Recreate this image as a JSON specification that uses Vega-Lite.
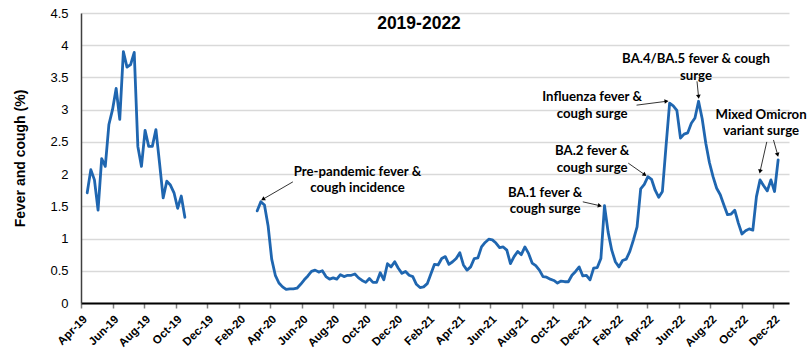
{
  "$schema": "https://vega.github.io/schema/vega-lite/v6.json",
  "width": 708,
  "height": 290,
  "autosize": {"type": "none"},
  "padding": {"left": 81, "top": 13, "right": 21, "bottom": 58},
  "background": "white",
  "config": {"view": {"stroke": null}, "font": "Liberation Sans"},
  "title": {"text": "2019-2022", "font": "Liberation Sans", "fontSize": 17.5, "fontWeight": "bold", "color": "#000000", "anchor": "middle", "dx": -16, "dy": 24, "baseline": "alphabetic", "offset": -15},
  "encoding": {
    "x": {
      "field": "date", "type": "temporal", "title": null,
      "scale": {"type": "utc", "domain": [{"year": 2019, "month": 4, "date": 1, "utc": true}, {"year": 2022, "month": 12, "date": 31, "utc": true}]},
      "axis": {
        "values": [
          {"year": 2019, "month": 4, "date": 1, "utc": true}, {"year": 2019, "month": 6, "date": 1, "utc": true}, {"year": 2019, "month": 8, "date": 1, "utc": true}, {"year": 2019, "month": 10, "date": 1, "utc": true}, {"year": 2019, "month": 12, "date": 1, "utc": true},
          {"year": 2020, "month": 2, "date": 1, "utc": true}, {"year": 2020, "month": 4, "date": 1, "utc": true}, {"year": 2020, "month": 6, "date": 1, "utc": true}, {"year": 2020, "month": 8, "date": 1, "utc": true}, {"year": 2020, "month": 10, "date": 1, "utc": true}, {"year": 2020, "month": 12, "date": 1, "utc": true},
          {"year": 2021, "month": 2, "date": 1, "utc": true}, {"year": 2021, "month": 4, "date": 1, "utc": true}, {"year": 2021, "month": 6, "date": 1, "utc": true}, {"year": 2021, "month": 8, "date": 1, "utc": true}, {"year": 2021, "month": 10, "date": 1, "utc": true}, {"year": 2021, "month": 12, "date": 1, "utc": true},
          {"year": 2022, "month": 2, "date": 1, "utc": true}, {"year": 2022, "month": 4, "date": 1, "utc": true}, {"year": 2022, "month": 6, "date": 1, "utc": true}, {"year": 2022, "month": 8, "date": 1, "utc": true}, {"year": 2022, "month": 10, "date": 1, "utc": true}, {"year": 2022, "month": 12, "date": 1, "utc": true}
        ],
        "format": "%b-%y", "labelAngle": -45, "labelFont": "Liberation Sans", "labelFontWeight": "bold", "labelFontSize": 11.5, "labelColor": "#000000",
        "tickColor": "#7f7f7f", "tickSize": 5, "tickWidth": 1.5, "domainColor": "#000000", "domainWidth": 1.8, "grid": false, "labelPadding": 5, "labelOverlap": false, "labelFlush": false
      }
    },
    "y": {
      "field": "value", "type": "quantitative", "title": "Fever and cough (%)",
      "scale": {"domain": [0, 4.5], "nice": false, "zero": true},
      "axis": {
        "values": [0, 0.5, 1, 1.5, 2, 2.5, 3, 3.5, 4, 4.5], "format": ".1~f",
        "labelFont": "Liberation Sans", "labelFontSize": 13, "labelColor": "#000000", "labelPadding": 13, "ticks": false,
        "domainColor": "#404040", "domainWidth": 1.5, "gridColor": "#d9d9d9", "gridWidth": 1.5,
        "titleFont": "Liberation Sans", "titleFontSize": 14, "titleFontWeight": "bold", "titleColor": "#000000", "titlePadding": 22
      }
    }
  },
  "layer": [
    {
      "data": {"values": [
        {"date": "2019-04-13", "value": 1.71, "seg": 1}, {"date": "2019-04-20", "value": 2.07, "seg": 1}, {"date": "2019-04-27", "value": 1.91, "seg": 1}, {"date": "2019-05-04", "value": 1.44, "seg": 1},
        {"date": "2019-05-11", "value": 2.24, "seg": 1}, {"date": "2019-05-18", "value": 2.12, "seg": 1}, {"date": "2019-05-25", "value": 2.77, "seg": 1}, {"date": "2019-06-01", "value": 3.0, "seg": 1},
        {"date": "2019-06-08", "value": 3.33, "seg": 1}, {"date": "2019-06-15", "value": 2.85, "seg": 1}, {"date": "2019-06-22", "value": 3.9, "seg": 1}, {"date": "2019-06-29", "value": 3.66, "seg": 1},
        {"date": "2019-07-06", "value": 3.7, "seg": 1}, {"date": "2019-07-13", "value": 3.89, "seg": 1}, {"date": "2019-07-20", "value": 2.43, "seg": 1}, {"date": "2019-07-27", "value": 2.12, "seg": 1},
        {"date": "2019-08-03", "value": 2.68, "seg": 1}, {"date": "2019-08-10", "value": 2.43, "seg": 1}, {"date": "2019-08-17", "value": 2.43, "seg": 1}, {"date": "2019-08-24", "value": 2.69, "seg": 1},
        {"date": "2019-08-31", "value": 2.17, "seg": 1}, {"date": "2019-09-07", "value": 1.63, "seg": 1}, {"date": "2019-09-14", "value": 1.89, "seg": 1}, {"date": "2019-09-21", "value": 1.83, "seg": 1},
        {"date": "2019-09-28", "value": 1.71, "seg": 1}, {"date": "2019-10-05", "value": 1.47, "seg": 1}, {"date": "2019-10-12", "value": 1.66, "seg": 1}, {"date": "2019-10-19", "value": 1.33, "seg": 1},
        {"date": "2020-03-07", "value": 1.43, "seg": 2}, {"date": "2020-03-14", "value": 1.57, "seg": 2}, {"date": "2020-03-21", "value": 1.52, "seg": 2}, {"date": "2020-03-28", "value": 1.2, "seg": 2},
        {"date": "2020-04-04", "value": 0.68, "seg": 2}, {"date": "2020-04-11", "value": 0.43, "seg": 2}, {"date": "2020-04-18", "value": 0.31, "seg": 2}, {"date": "2020-04-25", "value": 0.25, "seg": 2},
        {"date": "2020-05-02", "value": 0.21, "seg": 2}, {"date": "2020-05-09", "value": 0.22, "seg": 2}, {"date": "2020-05-16", "value": 0.22, "seg": 2}, {"date": "2020-05-23", "value": 0.23, "seg": 2},
        {"date": "2020-05-30", "value": 0.29, "seg": 2}, {"date": "2020-06-06", "value": 0.36, "seg": 2}, {"date": "2020-06-13", "value": 0.42, "seg": 2}, {"date": "2020-06-20", "value": 0.49, "seg": 2},
        {"date": "2020-06-27", "value": 0.51, "seg": 2}, {"date": "2020-07-04", "value": 0.48, "seg": 2}, {"date": "2020-07-11", "value": 0.5, "seg": 2}, {"date": "2020-07-18", "value": 0.41, "seg": 2},
        {"date": "2020-07-25", "value": 0.37, "seg": 2}, {"date": "2020-08-01", "value": 0.39, "seg": 2}, {"date": "2020-08-08", "value": 0.37, "seg": 2}, {"date": "2020-08-15", "value": 0.44, "seg": 2},
        {"date": "2020-08-22", "value": 0.41, "seg": 2}, {"date": "2020-08-29", "value": 0.43, "seg": 2}, {"date": "2020-09-05", "value": 0.43, "seg": 2}, {"date": "2020-09-12", "value": 0.45, "seg": 2},
        {"date": "2020-09-19", "value": 0.39, "seg": 2}, {"date": "2020-09-26", "value": 0.35, "seg": 2}, {"date": "2020-10-03", "value": 0.32, "seg": 2}, {"date": "2020-10-10", "value": 0.38, "seg": 2},
        {"date": "2020-10-17", "value": 0.32, "seg": 2}, {"date": "2020-10-24", "value": 0.32, "seg": 2}, {"date": "2020-10-31", "value": 0.47, "seg": 2}, {"date": "2020-11-07", "value": 0.36, "seg": 2},
        {"date": "2020-11-14", "value": 0.61, "seg": 2}, {"date": "2020-11-21", "value": 0.56, "seg": 2}, {"date": "2020-11-28", "value": 0.64, "seg": 2}, {"date": "2020-12-05", "value": 0.54, "seg": 2},
        {"date": "2020-12-12", "value": 0.46, "seg": 2}, {"date": "2020-12-19", "value": 0.49, "seg": 2}, {"date": "2020-12-26", "value": 0.43, "seg": 2}, {"date": "2021-01-02", "value": 0.41, "seg": 2},
        {"date": "2021-01-09", "value": 0.29, "seg": 2}, {"date": "2021-01-16", "value": 0.24, "seg": 2}, {"date": "2021-01-23", "value": 0.25, "seg": 2}, {"date": "2021-01-30", "value": 0.3, "seg": 2},
        {"date": "2021-02-06", "value": 0.45, "seg": 2}, {"date": "2021-02-13", "value": 0.6, "seg": 2}, {"date": "2021-02-20", "value": 0.59, "seg": 2}, {"date": "2021-02-27", "value": 0.69, "seg": 2},
        {"date": "2021-03-06", "value": 0.72, "seg": 2}, {"date": "2021-03-13", "value": 0.6, "seg": 2}, {"date": "2021-03-20", "value": 0.64, "seg": 2}, {"date": "2021-03-27", "value": 0.69, "seg": 2},
        {"date": "2021-04-03", "value": 0.78, "seg": 2}, {"date": "2021-04-10", "value": 0.59, "seg": 2}, {"date": "2021-04-17", "value": 0.51, "seg": 2}, {"date": "2021-04-24", "value": 0.56, "seg": 2},
        {"date": "2021-05-01", "value": 0.69, "seg": 2}, {"date": "2021-05-08", "value": 0.7, "seg": 2}, {"date": "2021-05-15", "value": 0.87, "seg": 2}, {"date": "2021-05-22", "value": 0.94, "seg": 2},
        {"date": "2021-05-29", "value": 0.99, "seg": 2}, {"date": "2021-06-05", "value": 0.98, "seg": 2}, {"date": "2021-06-12", "value": 0.93, "seg": 2}, {"date": "2021-06-19", "value": 0.86, "seg": 2},
        {"date": "2021-06-26", "value": 0.87, "seg": 2}, {"date": "2021-07-03", "value": 0.82, "seg": 2}, {"date": "2021-07-10", "value": 0.61, "seg": 2}, {"date": "2021-07-17", "value": 0.72, "seg": 2},
        {"date": "2021-07-24", "value": 0.8, "seg": 2}, {"date": "2021-07-31", "value": 0.75, "seg": 2}, {"date": "2021-08-07", "value": 0.87, "seg": 2}, {"date": "2021-08-14", "value": 0.77, "seg": 2},
        {"date": "2021-08-21", "value": 0.62, "seg": 2}, {"date": "2021-08-28", "value": 0.58, "seg": 2}, {"date": "2021-09-04", "value": 0.51, "seg": 2}, {"date": "2021-09-11", "value": 0.41, "seg": 2},
        {"date": "2021-09-18", "value": 0.4, "seg": 2}, {"date": "2021-09-25", "value": 0.37, "seg": 2}, {"date": "2021-10-02", "value": 0.35, "seg": 2}, {"date": "2021-10-09", "value": 0.31, "seg": 2},
        {"date": "2021-10-16", "value": 0.34, "seg": 2}, {"date": "2021-10-23", "value": 0.33, "seg": 2}, {"date": "2021-10-30", "value": 0.33, "seg": 2}, {"date": "2021-11-06", "value": 0.43, "seg": 2},
        {"date": "2021-11-13", "value": 0.49, "seg": 2}, {"date": "2021-11-20", "value": 0.56, "seg": 2}, {"date": "2021-11-27", "value": 0.42, "seg": 2}, {"date": "2021-12-04", "value": 0.43, "seg": 2},
        {"date": "2021-12-11", "value": 0.36, "seg": 2}, {"date": "2021-12-18", "value": 0.54, "seg": 2}, {"date": "2021-12-25", "value": 0.55, "seg": 2}, {"date": "2022-01-01", "value": 0.69, "seg": 2},
        {"date": "2022-01-08", "value": 1.51, "seg": 2}, {"date": "2022-01-15", "value": 1.1, "seg": 2}, {"date": "2022-01-22", "value": 0.82, "seg": 2}, {"date": "2022-01-29", "value": 0.64, "seg": 2},
        {"date": "2022-02-05", "value": 0.56, "seg": 2}, {"date": "2022-02-12", "value": 0.66, "seg": 2}, {"date": "2022-02-19", "value": 0.68, "seg": 2}, {"date": "2022-02-26", "value": 0.8, "seg": 2},
        {"date": "2022-03-05", "value": 0.98, "seg": 2}, {"date": "2022-03-12", "value": 1.18, "seg": 2}, {"date": "2022-03-19", "value": 1.77, "seg": 2}, {"date": "2022-03-26", "value": 1.84, "seg": 2},
        {"date": "2022-04-02", "value": 1.96, "seg": 2}, {"date": "2022-04-09", "value": 1.92, "seg": 2}, {"date": "2022-04-16", "value": 1.75, "seg": 2}, {"date": "2022-04-23", "value": 1.64, "seg": 2},
        {"date": "2022-04-30", "value": 1.73, "seg": 2}, {"date": "2022-05-07", "value": 2.43, "seg": 2}, {"date": "2022-05-14", "value": 3.1, "seg": 2}, {"date": "2022-05-21", "value": 3.06, "seg": 2},
        {"date": "2022-05-28", "value": 2.99, "seg": 2}, {"date": "2022-06-04", "value": 2.56, "seg": 2}, {"date": "2022-06-11", "value": 2.62, "seg": 2}, {"date": "2022-06-18", "value": 2.64, "seg": 2},
        {"date": "2022-06-25", "value": 2.79, "seg": 2}, {"date": "2022-07-02", "value": 2.87, "seg": 2}, {"date": "2022-07-09", "value": 3.13, "seg": 2}, {"date": "2022-07-16", "value": 2.86, "seg": 2},
        {"date": "2022-07-23", "value": 2.48, "seg": 2}, {"date": "2022-07-30", "value": 2.18, "seg": 2}, {"date": "2022-08-06", "value": 1.96, "seg": 2}, {"date": "2022-08-13", "value": 1.78, "seg": 2},
        {"date": "2022-08-20", "value": 1.68, "seg": 2}, {"date": "2022-08-27", "value": 1.52, "seg": 2}, {"date": "2022-09-03", "value": 1.37, "seg": 2}, {"date": "2022-09-10", "value": 1.38, "seg": 2},
        {"date": "2022-09-17", "value": 1.44, "seg": 2}, {"date": "2022-09-24", "value": 1.24, "seg": 2}, {"date": "2022-10-01", "value": 1.07, "seg": 2}, {"date": "2022-10-08", "value": 1.12, "seg": 2},
        {"date": "2022-10-15", "value": 1.15, "seg": 2}, {"date": "2022-10-22", "value": 1.13, "seg": 2}, {"date": "2022-10-29", "value": 1.65, "seg": 2}, {"date": "2022-11-05", "value": 1.91, "seg": 2},
        {"date": "2022-11-12", "value": 1.82, "seg": 2}, {"date": "2022-11-19", "value": 1.74, "seg": 2}, {"date": "2022-11-26", "value": 1.91, "seg": 2}, {"date": "2022-12-03", "value": 1.73, "seg": 2},
        {"date": "2022-12-10", "value": 2.22, "seg": 2}
      ]},
      "mark": {"type": "line", "color": "#1f66b0", "strokeWidth": 2.8, "strokeJoin": "round", "strokeCap": "round"},
      "encoding": {"detail": {"field": "seg", "type": "nominal"}}
    },
    {
      "data": {"values": [
        {"date": "2020-09-17", "value": 2.03, "label": "Pre-pandemic fever &"},
        {"date": "2020-09-17", "value": 1.79, "label": "cough incidence"},
        {"date": "2021-09-15", "value": 1.71, "label": "BA.1 fever &"},
        {"date": "2021-09-15", "value": 1.46, "label": "cough surge"},
        {"date": "2021-12-15", "value": 2.36, "label": "BA.2 fever &"},
        {"date": "2021-12-15", "value": 2.1, "label": "cough surge"},
        {"date": "2021-12-15", "value": 3.19, "label": "Influenza fever &"},
        {"date": "2021-12-15", "value": 2.93, "label": "cough surge"},
        {"date": "2022-07-04", "value": 3.78, "label": "BA.4/BA.5 fever & cough"},
        {"date": "2022-07-04", "value": 3.53, "label": "surge"},
        {"date": "2022-11-07", "value": 2.92, "label": "Mixed Omicron"},
        {"date": "2022-11-07", "value": 2.67, "label": "variant surge"}
      ]},
      "mark": {"type": "text", "font": "Lato", "fontWeight": "bold", "fontSize": 13.2, "align": "center", "baseline": "middle", "color": "#000000"},
      "encoding": {"text": {"field": "label", "type": "nominal"}}
    },
    {
      "data": {"name": "arrows", "values": [
        {"date": "2020-05-15", "value": 1.88, "date2": "2020-03-18", "value2": 1.61},
        {"date": "2021-11-27", "value": 1.57, "date2": "2021-12-30", "value2": 1.51},
        {"date": "2022-02-23", "value": 2.17, "date2": "2022-03-27", "value2": 1.99},
        {"date": "2022-03-11", "value": 3.07, "date2": "2022-05-08", "value2": 3.13},
        {"date": "2022-07-06", "value": 3.44, "date2": "2022-07-09", "value2": 3.2},
        {"date": "2022-11-18", "value": 2.5, "date2": "2022-11-05", "value2": 2.04},
        {"date": "2022-12-01", "value": 2.53, "date2": "2022-12-09", "value2": 2.3}
      ]},
      "mark": {"type": "rule", "color": "#000000", "strokeWidth": 0.8},
      "encoding": {"x2": {"field": "date2"}, "y2": {"field": "value2"}}
    },
    {
      "data": {"name": "arrows"},
      "transform": [
        {"calculate": "atan2(-(datum.value2 - datum.value) * 64.4, (time(datum.date2) - time(datum.date)) / 86400000 * 0.5161) * 180 / PI + 90", "as": "ang"}
      ],
      "mark": {"type": "point", "shape": "triangle-up", "filled": true, "color": "#000000", "size": 22, "opacity": 1},
      "encoding": {
        "x": {"field": "date2", "type": "temporal", "title": null},
        "y": {"field": "value2", "type": "quantitative", "title": "Fever and cough (%)"},
        "angle": {"field": "ang", "type": "quantitative", "scale": null}
      }
    }
  ]
}
